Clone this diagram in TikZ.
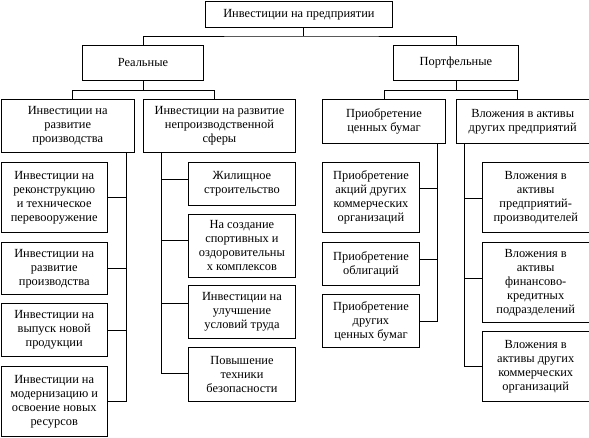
\documentclass[tikz,border=0pt]{standalone}
\usepackage{fontspec}
\setmainfont{Liberation Serif}
\usetikzlibrary{calc}
\begin{document}
\begin{tikzpicture}[x=1pt,y=-1pt,
  box/.style={draw,line width=0.9pt,align=center,inner sep=0pt,anchor=north west,
    font=\fontsize{12.4}{14}\selectfont},
  conn/.style={line width=0.9pt}]
\useasboundingbox (0,0) rectangle (589,437);
% level 0
\node[box,minimum width=187pt,minimum height=26pt] (top) at (205,1) {Инвестиции на предприятии};
% level 1
\node[box,minimum width=121pt,minimum height=35pt] (real) at (82,45) {Реальные};
\node[box,minimum width=125pt,minimum height=35pt] (port) at (393,45) {Портфельные};
% level 2
\node[box,minimum width=133.5pt,minimum height=53pt] (p1) at (0.5,99) {Инвестиции на\\развитие\\производства};
\node[box,minimum width=152pt,minimum height=53pt] (p2) at (143,99) {Инвестиции на развитие\\непроизводственной\\сферы};
\node[box,minimum width=123pt,minimum height=44pt] (p3) at (322,99) {Приобретение\\ценных бумаг};
\node[box,minimum width=132.5pt,minimum height=44pt] (p4) at (456,99) {Вложения в активы\\других предприятий};
% column 1
\node[box,minimum width=106.5pt,minimum height=70pt] (c11) at (0.5,162) {Инвестиции на\\реконструкцию\\и техническое\\перевооружение};
\node[box,minimum width=106.5pt,minimum height=52pt] (c12) at (0.5,242) {Инвестиции на\\развитие\\производства};
\node[box,minimum width=106.5pt,minimum height=53pt] (c13) at (0.5,303) {Инвестиции на\\выпуск новой\\продукции};
\node[box,minimum width=106.5pt,minimum height=70pt] (c14) at (0.5,366) {Инвестиции на\\модернизацию и\\освоение новых\\ресурсов};
% column 2
\node[box,minimum width=107pt,minimum height=43pt] (c21) at (188,162) {Жилищное\\строительство};
\node[box,minimum width=107pt,minimum height=63pt] (c22) at (188,214) {На создание\\спортивных и\\оздоровительны\\х комплексов};
\node[box,minimum width=107pt,minimum height=53pt] (c23) at (188,285) {Инвестиции на\\улучшение\\условий труда};
\node[box,minimum width=107pt,minimum height=54pt] (c24) at (188,347) {Повышение\\техники\\безопасности};
% column 3
\node[box,minimum width=97pt,minimum height=70pt] (c31) at (322,162) {Приобретение\\акций других\\коммерческих\\организаций};
\node[box,minimum width=97pt,minimum height=43pt] (c32) at (322,242) {Приобретение\\облигаций};
\node[box,minimum width=97pt,minimum height=53pt] (c33) at (322,294) {Приобретение\\других\\ценных бумаг};
% column 4
\node[box,minimum width=106.5pt,minimum height=70pt] (c41) at (482,162) {Вложения в\\активы\\предприятий-\\производителей};
\node[box,minimum width=106.5pt,minimum height=80pt] (c42) at (482,242) {Вложения в\\активы\\финансово-\\кредитных\\подразделений};
\node[box,minimum width=106.5pt,minimum height=70pt] (c43) at (482,331) {Вложения в\\активы других\\коммерческих\\организаций};
% connectors top
\coordinate (j0) at (303,36);
\draw[conn] (j0 |- top.south) -- (j0);
\draw[conn] (real.north) |- (j0) -| (port.north);
% real -> p1, p2
\draw[conn] (real.south) -- ++(0,10) coordinate (j1);
\draw[conn] ($(p1.north)+(5,0)$) |- (j1) -| ($(p2.north)+(-5,0)$);
% port -> p3, p4
\draw[conn] (port.south) -- ++(0,10) coordinate (j2);
\draw[conn] (p3.north) |- (j2) -| ($(p4.north)+(-5,0)$);
% column 1 bus
\draw[conn] (p1.south -| 126,0) |- (c14.east);
\draw[conn] (c11.east) -- (c11.east -| 126,0);
\draw[conn] (c12.east) -- (c12.east -| 126,0);
\draw[conn] (c13.east) -- (c13.east -| 126,0);
% column 2 bus
\coordinate (k21) at ($(c21.west)+(0,-4.5)$);
\coordinate (k22) at ($(c22.west)+(0,-5.5)$);
\coordinate (k23) at ($(c23.west)+(0,-8.5)$);
\coordinate (k24) at ($(c24.west)+(0,-1)$);
\draw[conn] (p2.south -| 161,0) |- (k24);
\draw[conn] (k21) -- (k21 -| 161,0);
\draw[conn] (k22) -- (k22 -| 161,0);
\draw[conn] (k23) -- (k23 -| 161,0);
% column 3 bus
\coordinate (k31) at ($(c31.east)+(0,-9)$);
\coordinate (k32) at ($(c32.east)+(0,-4.5)$);
\draw[conn] (p3.south -| 437,0) |- (c33.east);
\draw[conn] (k31) -- (k31 -| 437,0);
\draw[conn] (k32) -- (k32 -| 437,0);
% column 4 bus
\coordinate (k41) at ($(c41.west)+(0,1)$);
\coordinate (k42) at ($(c42.west)+(0,-4)$);
\draw[conn] (p4.south -| 464,0) |- (c43.west);
\draw[conn] (k41) -- (k41 -| 464,0);
\draw[conn] (k42) -- (k42 -| 464,0);
\end{tikzpicture}
\end{document}
